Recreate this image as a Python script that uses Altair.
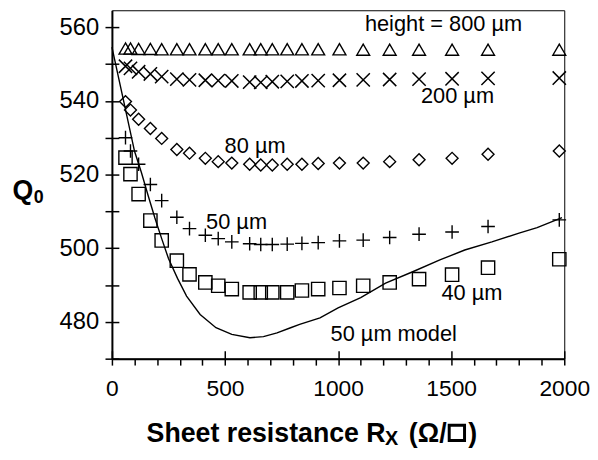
import altair as alt
import pandas as pd

# ---- data ----
R = [60, 82, 118, 170, 220, 287, 343, 413, 470, 530, 609, 658, 709, 775, 840,
     912, 1006, 1111, 1228, 1358, 1504, 1663, 1978]

Q800 = [554.2, 554.2, 554.1, 554.1, 554.0, 554.0, 554.0, 554.0, 554.0, 554.0,
        554.0, 554.0, 554.0, 554.0, 554.0, 554.0, 554.0, 553.9, 553.9, 553.9,
        553.9, 553.9, 553.9]
Q200 = [549.4, 548.8, 547.9, 547.3, 546.6, 545.9, 545.7, 545.6, 545.5, 545.4,
        545.1, 545.0, 545.2, 545.3, 545.4, 545.5, 545.6, 545.7, 545.8, 545.9,
        546.0, 546.1, 546.2]
Q80 = [539.8, 537.5, 535.0, 532.5, 529.8, 526.8, 525.8, 524.4, 523.5, 523.1,
       522.8, 522.6, 522.6, 522.8, 522.8, 523.0, 523.1, 523.1, 523.5, 524.0,
       524.4, 525.5, 526.4]
Q50 = [530.0, 526.4, 522.8, 517.3, 512.9, 508.4, 505.3, 503.5, 502.6, 501.7,
       501.2, 501.0, 501.0, 501.1, 501.3, 501.5, 502.0, 502.2, 502.9, 503.8,
       504.4, 505.9, 507.7]
Q40 = [524.6, 520.1, 514.7, 507.5, 502.1, 496.6, 492.9, 490.7, 489.8, 488.9,
       488.0, 488.0, 488.0, 488.0, 488.5, 488.9, 489.2, 489.8, 490.7, 491.6,
       492.8, 494.7, 497.0]

MODEL_R = [0, 50, 100, 130, 160, 190, 220, 250, 290, 330, 390, 460, 530, 610,
           670, 730, 790, 830, 920, 1000, 1100, 1210, 1330, 1450, 1560, 1680,
           1800, 1880, 1990]
MODEL_Q = [554.6, 540.5, 526.3, 520.6, 514.3, 508.2, 502.6, 497.2, 491.8, 487.0,
           482.0, 478.4, 476.6, 475.7, 476.0, 477.0, 478.4, 479.3, 481.1, 483.8,
           486.6, 490.5, 493.6, 496.8, 499.5, 501.7, 504.1, 505.6, 508.3]

ANN_TEXT = ["height = 800 µm", "200 µm", "80 µm", "50 µm", "40 µm", "50 µm model"]
ANN_R = [1466, 1528, 633, 551, 1592, 1246]
ANN_Q = [559.1, 539.3, 525.9, 505.3, 486.0, 474.8]

X_TICKS = list(range(0, 2001, 100))
X_MAJOR = list(range(0, 2001, 500))
Y_TICKS = list(range(470, 561, 10))

FONT = "Liberation Sans"

xscale = alt.Scale(domain=[0, 2000], nice=False, zero=False)
yscale = alt.Scale(domain=[470, 564.6], nice=False, zero=False)


def series(vals, shape, size, sw):
    df = pd.DataFrame({"R": R, "Q": vals})
    return alt.Chart(df).mark_point(
        shape=shape, size=size, filled=False, stroke="black",
        strokeWidth=sw, opacity=1
    ).encode(
        x=alt.X("R:Q", scale=xscale, axis=None),
        y=alt.Y("Q:Q", scale=yscale, axis=None),
    )


model_df = pd.DataFrame({"R": MODEL_R, "Q": MODEL_Q})

# main layer carries the outer axes
model = alt.Chart(model_df).mark_line(color="black", strokeWidth=1.4).encode(
    x=alt.X("R:Q", scale=xscale, axis=alt.Axis(
        orient="bottom", values=X_TICKS, format="d",
        labelExpr="datum.value % 500 === 0 ? datum.label : ''",
        tickSize=6.5, tickWidth=1.5, tickColor="black",
        domainColor="black", domainWidth=2,
        labelFont=FONT, labelFontSize=23, labelColor="black",
        labelPadding=13, labelFlush=False, labelOverlap=False,
        grid=False, title=None)),
    y=alt.Y("Q:Q", scale=yscale, axis=alt.Axis(
        orient="left", values=Y_TICKS, format="d",
        labelExpr="datum.value % 20 === 0 && datum.value >= 480 ? datum.label : ''",
        tickSize=7, tickWidth=1.5, tickColor="black",
        domainColor="black", domainWidth=2,
        labelFont=FONT, labelFontSize=24, labelColor="black",
        labelPadding=6.4, labelOverlap=False,
        grid=False, title=None)),
)

# inward ticks (second set of axes pulled inside the frame)
inner = alt.Chart(model_df).mark_line(opacity=0).encode(
    x=alt.X("R:Q", scale=xscale, axis=alt.Axis(
        orient="bottom", values=X_MAJOR, offset=-8, tickSize=8, tickWidth=1.5,
        tickColor="black", domain=False, labels=False, grid=False, title=None)),
    y=alt.Y("Q:Q", scale=yscale, axis=alt.Axis(
        orient="left", values=Y_TICKS, offset=-7, tickSize=7, tickWidth=1.5,
        tickColor="black", domain=False, labels=False, grid=False, title=None)),
)

tri = series(Q800, "triangle-up", 170, 1.4)
crs = series(Q200, "M-1,-1L1,1M-1,1L1,-1", 180, 1.5)
dia = series(Q80, "diamond", 145, 1.4)
pls = series(Q50, "M-1,0L1,0M0,-1L0,1", 190, 1.4)
sqr = series(Q40, "square", 180, 1.4)

ann_df = pd.DataFrame({"R": ANN_R, "Q": ANN_Q, "label": ANN_TEXT})
ann = alt.Chart(ann_df).mark_text(
    font=FONT, fontSize=22, color="black", align="center", baseline="alphabetic"
).encode(
    x=alt.X("R:Q", scale=xscale, axis=None),
    y=alt.Y("Q:Q", scale=yscale, axis=None),
    text="label:N",
)


def label(txt, x, y, size, align="left"):
    return alt.Chart(pd.DataFrame({"t": [txt]})).mark_text(
        font=FONT, fontSize=size, fontWeight="bold", color="black",
        align=align, baseline="alphabetic"
    ).encode(text="t:N", x=alt.value(x), y=alt.value(y))


xt_main = label("Sheet resistance R", 35, 436.5, 27)
xt_sub = label("X", 276, 439.5, 20)
xt_open = label("(Ω/", 300, 436.5, 27)
xt_close = label(")", 360, 436.5, 27)
unit_box = alt.Chart(pd.DataFrame({"t": ["box"]})).mark_point(
    shape="square", size=240, filled=False, stroke="black", strokeWidth=3,
    opacity=1
).encode(x=alt.value(348.5), y=alt.value(427))
yt_main = label("Q", -100.5, 190.5, 27)
yt_sub = label("0", -79, 195, 18)

chart = alt.layer(
    model, inner, tri, crs, dia, pls, sqr, ann,
    xt_main, xt_sub, xt_open, unit_box, xt_close, yt_main, yt_sub
).resolve_axis(x="independent", y="independent").properties(
    width=457, height=352,
    autosize=alt.AutoSizeParams(type="none"),
    padding={"left": 105, "top": 0, "right": 26, "bottom": 92},
).configure_view(stroke="black", strokeWidth=1)

chart.save("out.html", embed_options={"renderer": "svg", "actions": False})
